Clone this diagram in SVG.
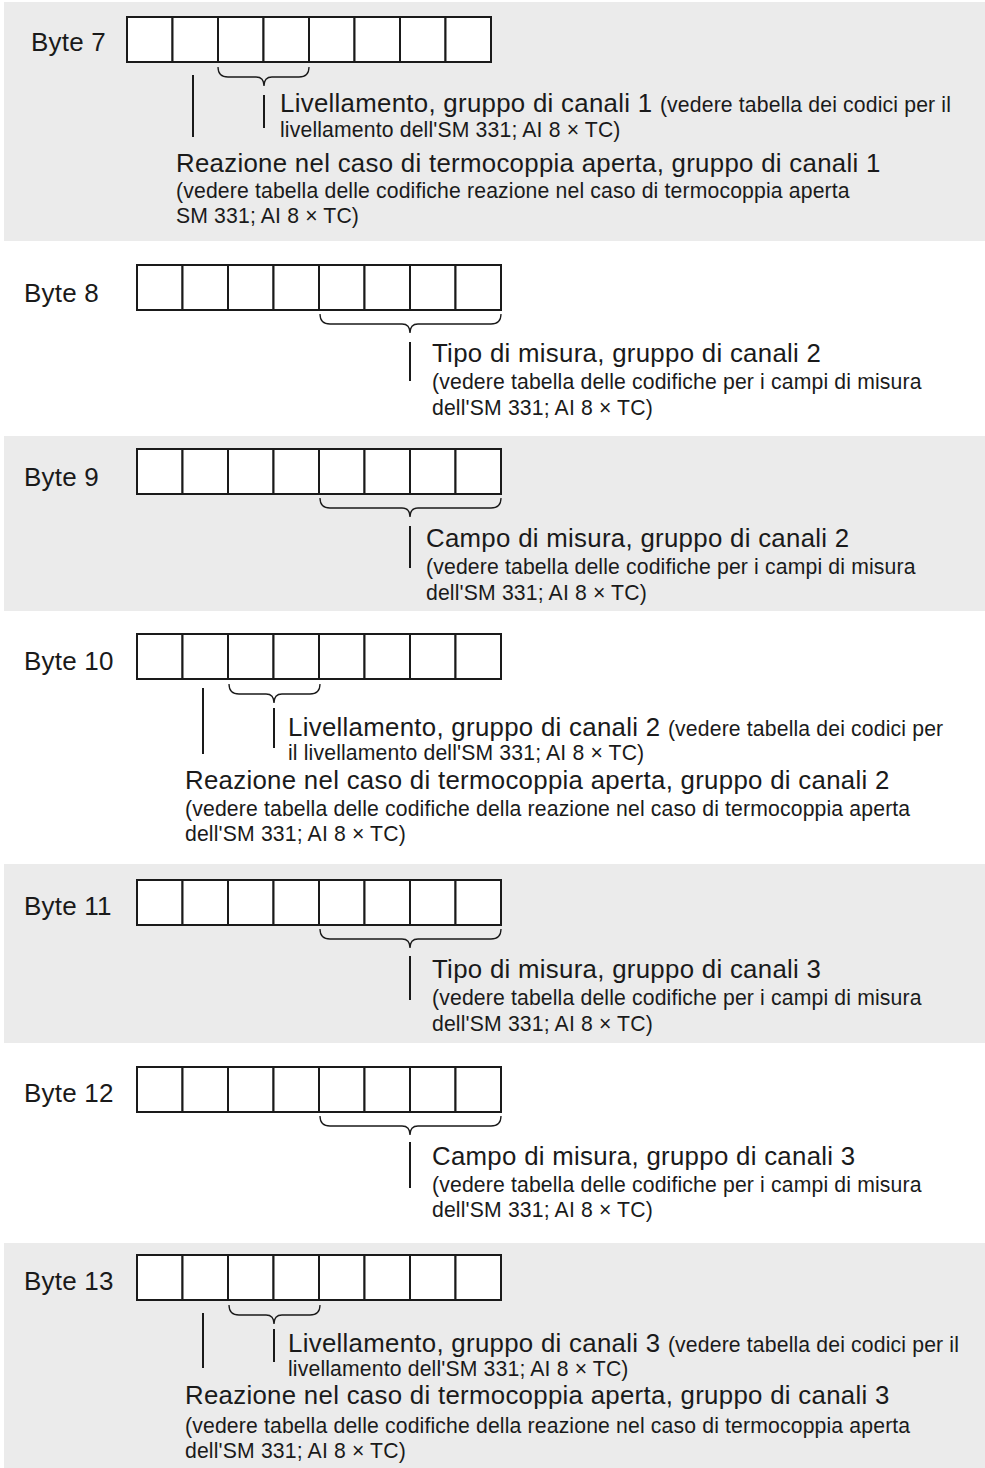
<svg xmlns="http://www.w3.org/2000/svg" width="985" height="1468" viewBox="0 0 985 1468">
<style>
.bg{fill:#ebebeb}
.cell{fill:#ffffff;stroke:#1a1a1a;stroke-width:2}
.ln{stroke:#1a1a1a;stroke-width:2;fill:none}
.br{stroke:#1a1a1a;stroke-width:1.3;fill:none}
text{font-family:"Liberation Sans",Arial,sans-serif;fill:#1a1a1a}
.lb{font-size:26px;letter-spacing:0.2px}
.t1{font-size:25.8px;letter-spacing:0.3px}
.t2{font-size:21.2px;letter-spacing:0.15px}
</style>
<defs>
<g id="reg">
<rect class="cell" x="0" y="0" width="45.5" height="45"/>
<rect class="cell" x="45.5" y="0" width="45.5" height="45"/>
<rect class="cell" x="91" y="0" width="45.5" height="45"/>
<rect class="cell" x="136.5" y="0" width="45.5" height="45"/>
<rect class="cell" x="182" y="0" width="45.5" height="45"/>
<rect class="cell" x="227.5" y="0" width="45.5" height="45"/>
<rect class="cell" x="273" y="0" width="45.5" height="45"/>
<rect class="cell" x="318.5" y="0" width="45.5" height="45"/>
</g>
</defs>
<rect class="bg" x="4" y="2" width="981" height="239"/>
<rect class="bg" x="4" y="436" width="981" height="175"/>
<rect class="bg" x="4" y="864" width="981" height="179"/>
<rect class="bg" x="4" y="1243" width="981" height="225"/>

<g id="byte7">
<text class="lb" x="31" y="51">Byte 7</text>
<use href="#reg" x="127" y="17"/>
<text x="280" y="112"><tspan class="t1">Livellamento, gruppo di canali 1 </tspan><tspan class="t2">(vedere tabella dei codici per il</tspan></text>
<text class="t2" x="280" y="137">livellamento dell'SM 331; AI 8 × TC)</text>
<text class="t1" x="176" y="172">Reazione nel caso di termocoppia aperta, gruppo di canali 1</text>
<text class="t2" x="176" y="198">(vedere tabella delle codifiche reazione nel caso di termocoppia aperta</text>
<text class="t2" x="176" y="223">SM 331; AI 8 × TC)</text>
</g>
<g id="byte8">
<text class="lb" x="24" y="302">Byte 8</text>
<use href="#reg" x="137" y="265"/>
<text class="t1" x="432" y="362">Tipo di misura, gruppo di canali 2</text>
<text class="t2" x="432" y="389">(vedere tabella delle codifiche per i campi di misura</text>
<text class="t2" x="432" y="415">dell'SM 331; AI 8 × TC)</text>
</g>
<g id="byte9">
<text class="lb" x="24" y="486">Byte 9</text>
<use href="#reg" x="137" y="449"/>
<text class="t1" x="426" y="547">Campo di misura, gruppo di canali 2</text>
<text class="t2" x="426" y="574">(vedere tabella delle codifiche per i campi di misura</text>
<text class="t2" x="426" y="600">dell'SM 331; AI 8 × TC)</text>
</g>
<g id="byte10">
<text class="lb" x="24" y="670">Byte 10</text>
<use href="#reg" x="137" y="634"/>
<text x="288" y="736"><tspan class="t1">Livellamento, gruppo di canali 2 </tspan><tspan class="t2">(vedere tabella dei codici per</tspan></text>
<text class="t2" x="288" y="760">il livellamento dell'SM 331; AI 8 × TC)</text>
<text class="t1" x="185" y="789">Reazione nel caso di termocoppia aperta, gruppo di canali 2</text>
<text class="t2" x="185" y="816">(vedere tabella delle codifiche della reazione nel caso di termocoppia aperta</text>
<text class="t2" x="185" y="841">dell'SM 331; AI 8 × TC)</text>
</g>
<g id="byte11">
<text class="lb" x="24" y="915">Byte 11</text>
<use href="#reg" x="137" y="880"/>
<text class="t1" x="432" y="978">Tipo di misura, gruppo di canali 3</text>
<text class="t2" x="432" y="1005">(vedere tabella delle codifiche per i campi di misura</text>
<text class="t2" x="432" y="1031">dell'SM 331; AI 8 × TC)</text>
</g>
<g id="byte12">
<text class="lb" x="24" y="1102">Byte 12</text>
<use href="#reg" x="137" y="1067"/>
<text class="t1" x="432" y="1165">Campo di misura, gruppo di canali 3</text>
<text class="t2" x="432" y="1192">(vedere tabella delle codifiche per i campi di misura</text>
<text class="t2" x="432" y="1217">dell'SM 331; AI 8 × TC)</text>
</g>
<g id="byte13">
<text class="lb" x="24" y="1290">Byte 13</text>
<use href="#reg" x="137" y="1255"/>
<text x="288" y="1352"><tspan class="t1">Livellamento, gruppo di canali 3 </tspan><tspan class="t2">(vedere tabella dei codici per il</tspan></text>
<text class="t2" x="288" y="1376">livellamento dell'SM 331; AI 8 × TC)</text>
<text class="t1" x="185" y="1404">Reazione nel caso di termocoppia aperta, gruppo di canali 3</text>
<text class="t2" x="185" y="1433">(vedere tabella delle codifiche della reazione nel caso di termocoppia aperta</text>
<text class="t2" x="185" y="1458">dell'SM 331; AI 8 × TC)</text>
</g>

<g id="connectors">
<path class="br" d="M218,67 Q218,77 228,77 L256,77 Q264,77 264,86 Q264,77 272,77 L299,77 Q309,77 309,67"/>
<line class="ln" x1="193" y1="75" x2="193" y2="137"/>
<line class="ln" x1="264" y1="95" x2="264" y2="128"/>
<path class="br" d="M320,314 Q320,324 330,324 L402,324 Q410,324 410,333 Q410,324 418,324 L491,324 Q501,324 501,314"/>
<line class="ln" x1="410" y1="342" x2="410" y2="381"/>
<path class="br" d="M320,498 Q320,508 330,508 L402,508 Q410,508 410,517 Q410,508 418,508 L491,508 Q501,508 501,498"/>
<line class="ln" x1="410" y1="526" x2="410" y2="568"/>
<path class="br" d="M229,684 Q229,694 239,694 L266,694 Q274,694 274,703 Q274,694 282,694 L310,694 Q320,694 320,684"/>
<line class="ln" x1="203" y1="688" x2="203" y2="754"/>
<line class="ln" x1="274" y1="708" x2="274" y2="748"/>
<path class="br" d="M320,929 Q320,939 330,939 L402,939 Q410,939 410,948 Q410,939 418,939 L491,939 Q501,939 501,929"/>
<line class="ln" x1="410" y1="956" x2="410" y2="1000"/>
<path class="br" d="M320,1116 Q320,1126 330,1126 L402,1126 Q410,1126 410,1135 Q410,1126 418,1126 L491,1126 Q501,1126 501,1116"/>
<line class="ln" x1="410" y1="1142" x2="410" y2="1188"/>
<path class="br" d="M229,1305 Q229,1315 239,1315 L266,1315 Q274,1315 274,1324 Q274,1315 282,1315 L310,1315 Q320,1315 320,1305"/>
<line class="ln" x1="203" y1="1313" x2="203" y2="1368"/>
<line class="ln" x1="274" y1="1329" x2="274" y2="1362"/>
</g>
</svg>
